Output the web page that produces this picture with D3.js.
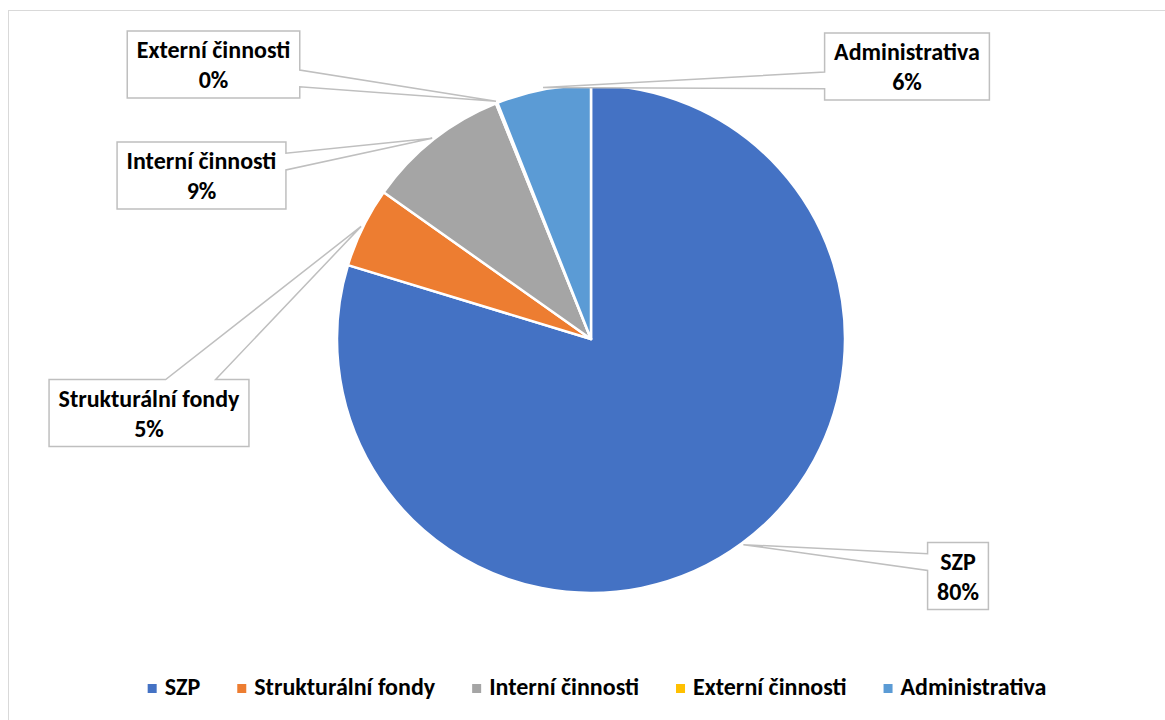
<!DOCTYPE html>
<html>
<head>
<meta charset="utf-8">
<script src="https://cdn.jsdelivr.net/npm/d3@7"></script>
<style>
  html, body { margin: 0; padding: 0; background: #ffffff; }
  svg { display: block; }
  text { font-family: Carlito, Calibri, Lato, "Noto Sans", sans-serif; font-weight: 700; fill: #000000; }
</style>
</head>
<body>
<svg id="chart" width="1165" height="720"></svg>
<script>
// Budget shares by area (percent of total)
const categories = ["SZP", "Strukturální fondy", "Interní činnosti", "Externí činnosti", "Administrativa"];
const shares = [79.7, 5.1, 9.1, 0.1, 6.0];
const sliceColors = ["#4472C4", "#ED7D31", "#A5A5A5", "#FFC000", "#5B9BD5"];

// Where each data-label callout box sits (box centre), same order as categories
const calloutCentres = [[958, 576], [149, 413], [201.5, 175.5], [213.5, 64.5], [907, 66.5]];

const W = 1165, H = 720;
const cx = 591, cy = 339, radius = 254;
const fontSize = 24;

const svg = d3.select("#chart");

// chart frame
svg.append("rect")
  .attr("x", 8.5).attr("y", 10.5)
  .attr("width", W + 20).attr("height", H + 20)
  .attr("fill", "#ffffff")
  .attr("stroke", "#d9d9d9").attr("stroke-width", 1);

const data = categories.map((c, i) => ({ name: c, value: shares[i], color: sliceColors[i], centre: calloutCentres[i] }));
const total = d3.sum(shares);

const pie = d3.pie().sort(null).value(d => d.value).startAngle(0).endAngle(2 * Math.PI);
const arcs = pie(data);
const arc = d3.arc().innerRadius(0).outerRadius(radius);

const g = svg.append("g").attr("transform", `translate(${cx},${cy})`);
g.selectAll("path.slice")
  .data(arcs)
  .join("path")
  .attr("class", "slice")
  .attr("d", arc)
  .attr("fill", d => d.data.color)
  .attr("stroke", "#ffffff")
  .attr("stroke-width", 2.5)
  .attr("stroke-linejoin", "round");

// Rectangular callout with a wedge pointing at (tx, ty)
function calloutPath(x, y, w, h, tx, ty) {
  const l = x, t = y, r = x + w, b = y + h;
  const dxPos = tx - (x + w / 2), dyPos = ty - (y + h / 2);
  const dq = dxPos * h / w;
  const dz = Math.abs(dyPos) - Math.abs(dq);
  const x1 = x + w * (dxPos > 0 ? 7 : 2) / 12, x2 = x + w * (dxPos > 0 ? 10 : 5) / 12;
  const y1 = y + h * (dyPos > 0 ? 7 : 2) / 12, y2 = y + h * (dyPos > 0 ? 10 : 5) / 12;
  const p = d3.path();
  p.moveTo(l, t);
  p.lineTo(x1, t);
  if (dz > 0 && dyPos < 0) p.lineTo(tx, ty);
  p.lineTo(x2, t);
  p.lineTo(r, t);
  p.lineTo(r, y1);
  if (dz <= 0 && dxPos > 0) p.lineTo(tx, ty);
  p.lineTo(r, y2);
  p.lineTo(r, b);
  p.lineTo(x2, b);
  if (dz > 0 && dyPos > 0) p.lineTo(tx, ty);
  p.lineTo(x1, b);
  p.lineTo(l, b);
  p.lineTo(l, y2);
  if (dz <= 0 && dxPos < 0) p.lineTo(tx, ty);
  p.lineTo(l, y1);
  p.closePath();
  return p.toString();
}

const labelArc = d3.arc().innerRadius(radius + 2).outerRadius(radius + 2);
const labels = svg.append("g").attr("class", "labels");

arcs.forEach(a => {
  const [bx, by] = a.data.centre;
  const lines = [a.data.name, Math.round(a.data.value / total * 100) + "%"];
  const grp = labels.append("g");
  const box = grp.append("path");
  const texts = grp.selectAll("text")
    .data(lines)
    .join("text")
    .attr("x", bx)
    .attr("y", (d, i) => by - 6.5 + i * 30)
    .attr("text-anchor", "middle")
    .attr("font-size", fontSize)
    .text(d => d);
  let tw = 0;
  texts.each(function () { tw = Math.max(tw, this.getComputedTextLength()); });
  const bw = tw + 19, bh = 67;
  const [mx, my] = labelArc.centroid(a);
  box.attr("d", calloutPath(bx - bw / 2, by - bh / 2, bw, bh, cx + mx, cy + my))
    .attr("fill", "#ffffff")
    .attr("stroke", "#bfbfbf")
    .attr("stroke-width", 1.5)
    .attr("stroke-linejoin", "miter");
});

// legend, centred under the plot
const legend = svg.append("g").attr("class", "legend");
const legendY = 695, swatch = 9, swatchGap = 8, itemGap = 37;
const items = legend.selectAll("g").data(data).join("g");
items.append("rect")
  .attr("width", swatch).attr("height", swatch)
  .attr("y", legendY - 11)
  .attr("fill", d => d.color);
items.append("text")
  .attr("x", swatch + swatchGap)
  .attr("y", legendY)
  .attr("font-size", fontSize)
  .text(d => d.name);
let xCursor = 0;
const offsets = [];
items.each(function () {
  const w = d3.select(this).select("text").node().getComputedTextLength() + swatch + swatchGap;
  offsets.push(xCursor);
  xCursor += w + itemGap;
});
const legendWidth = xCursor - itemGap;
const legendStart = 597 - legendWidth / 2;
items.attr("transform", (d, i) => `translate(${legendStart + offsets[i]},0)`);
</script>
</body>
</html>
